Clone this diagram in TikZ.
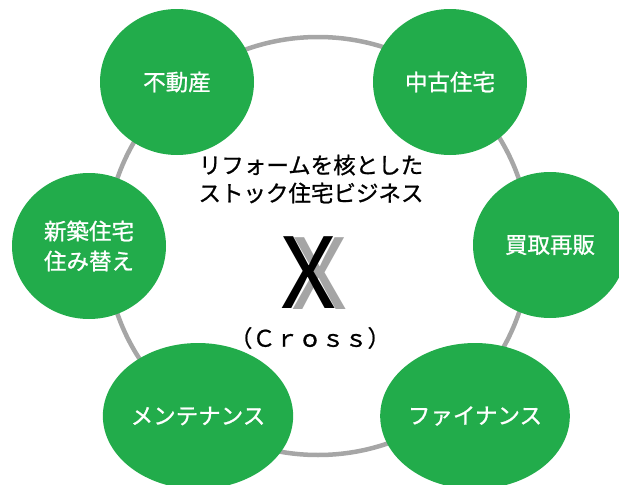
\documentclass[tikz,border=0pt]{standalone}
\usepackage{fontspec}
\setmainfont{Noto Sans CJK JP}
\newfontfamily\jpheavy[FakeBold=0.9]{Noto Sans CJK JP}
\usetikzlibrary{shapes.geometric}
\definecolor{cgreen}{RGB}{34,172,75}
\definecolor{cring}{RGB}{166,166,166}
\definecolor{cxgray}{RGB}{165,165,165}
\begin{document}
\begin{tikzpicture}[x=1pt,y=-1pt,
  bubble/.style={ellipse, fill=cgreen, minimum width=154pt, minimum height=146pt,
    inner sep=0pt, text=white, align=center, font=\jpheavy\fontsize{22.5}{30}\selectfont},
  ring/.style={draw=cring, line width=4.5pt},
  centertext/.style={text=black, align=center, font=\jpheavy\fontsize{22.5}{28}\selectfont},
  bigx/.style={inner sep=0pt, font=\fontsize{98}{98}\selectfont}]
\useasboundingbox (0,0) rectangle (619,485);
\draw[ring] (318,246) ellipse [x radius=212pt, y radius=209pt];
\node[bubble] (fudosan) at (177,82) {不動産};
\node[bubble] (chuko) at (450,82) {中古住宅};
\node[bubble] (shinchiku) at (89,246) {新築住宅\\住み替え};
\node[bubble] (kaitori) at (550,245) {買取再販};
\node[bubble] (maint) at (198,416) {メンテナンス};
\node[bubble] (finance) at (475,416) {ファイナンス};
\node[centertext] (headline) at (311,179) {リフォームを核とした\\ストック住宅ビジネス};
\node[bigx, text=cxgray] (xshadow) at (320,274) {X};
\node[bigx, text=black] (xmain) at (309,273) {X};
\node[centertext, font=\jpheavy\fontsize{23}{28}\selectfont] (cross) at (310,338) {（Ｃｒｏｓｓ）};
\end{tikzpicture}
\end{document}
